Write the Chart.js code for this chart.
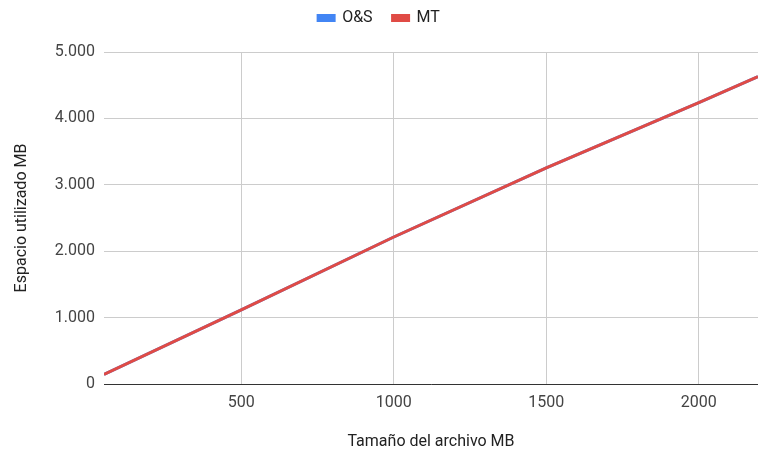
<!DOCTYPE html>
<html>
<head>
<meta charset="utf-8">
<script src="https://cdn.jsdelivr.net/npm/chart.js@4"></script>
<style>
  html, body { margin: 0; padding: 0; background: #fff; }
  #wrap { width: 758px; height: 456px; position: relative; }
</style>
</head>
<body>
<div id="wrap"><canvas id="c" width="758" height="456"></canvas></div>
<script>
// File size (MB) against space used (MB)
const fileSizes = [50, 500, 1000, 1500, 2000, 2194];
const spaceOS   = [143, 1116, 2214, 3256, 4238, 4628];
const spaceMT   = [143, 1116, 2214, 3256, 4238, 4628];
const seriesNames = ['O&S', 'MT'];
const yTicks = [0, 1000, 2000, 3000, 4000, 5000];
const xTicks = [500, 1000, 1500, 2000];

const toPoints = (xs, ys) => xs.map((x, i) => ({ x: x, y: ys[i] }));
const fmtThousands = v => String(v).replace(/\B(?=(\d{3})+(?!\d))/g, '.');

const FONT = 'Roboto, "Liberation Sans", Arial, sans-serif';

// Give the legend a fixed block height so the plot area starts where wanted
const fixedLegendHeight = {
  id: 'fixedLegendHeight',
  beforeLayout(chart) {
    const lg = chart.legend;
    if (lg && !lg._fixedHeight) {
      lg._fixedHeight = true;
      const origFit = lg.fit.bind(lg);
      lg.fit = function () { origFit(); this.height = 62; };
    }
  }
};

new Chart(document.getElementById('c'), {
  type: 'line',
  data: {
    datasets: [
      // MT is painted over O&S (lower order draws on top)
      { label: seriesNames[0], order: 2, data: toPoints(fileSizes, spaceOS), borderColor: '#4285f4', backgroundColor: '#4285f4', borderWidth: 3, pointRadius: 0, tension: 0 },
      { label: seriesNames[1], order: 1, data: toPoints(fileSizes, spaceMT), borderColor: '#e04b45', backgroundColor: '#e04b45', borderWidth: 3, pointRadius: 0, tension: 0 }
    ]
  },
  options: {
    responsive: false,
    animation: false,
    layout: { padding: { top: -10, left: 0, right: 0, bottom: 0 } },
    plugins: {
      legend: {
        position: 'top',
        align: 'center',
        labels: {
          boxWidth: 16, boxHeight: 5, padding: 20,
          color: '#222', font: { family: FONT, size: 16 },
          sort: (a, b) => a.datasetIndex - b.datasetIndex
        }
      },
      tooltip: { enabled: false }
    },
    scales: {
      x: {
        type: 'linear',
        min: fileSizes[0],
        max: fileSizes[fileSizes.length - 1],
        afterFit(s) { s.height = 72; },
        afterBuildTicks(s) { s.ticks = xTicks.map(v => ({ value: v })); },
        ticks: { color: '#444', padding: 9, font: { family: FONT, size: 16 }, maxRotation: 0, callback: v => String(v) },
        grid: { color: '#cccccc', drawTicks: false, lineWidth: 1 },
        border: { display: true, color: '#333333', width: 1 },
        title: { display: true, text: 'Tamaño del archivo MB', color: '#222', padding: { top: 0, bottom: 4 }, font: { family: FONT, size: 16 } }
      },
      y: {
        type: 'linear',
        min: 0,
        max: 5000,
        afterFit(s) { s.width = 104; },
        afterBuildTicks(s) { s.ticks = yTicks.map(v => ({ value: v })); },
        ticks: { color: '#444', padding: 9, font: { family: FONT, size: 16 }, callback: v => fmtThousands(v) },
        grid: { color: '#cccccc', drawTicks: false, lineWidth: 1 },
        border: { display: false },
        title: { display: true, text: 'Espacio utilizado MB', color: '#222', padding: { top: 12, bottom: 0 }, font: { family: FONT, size: 16 } }
      }
    }
  },
  plugins: [fixedLegendHeight]
});
</script>
</body>
</html>
